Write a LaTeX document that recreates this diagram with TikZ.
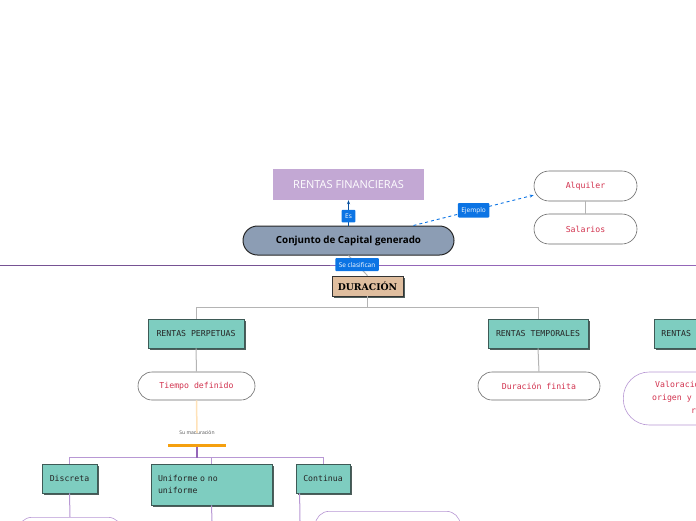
\documentclass[tikz,border=0pt]{standalone}
\usepackage{fontspec}
\setmainfont{Open Sans}
\setmonofont{DejaVu Sans Mono}
\newfontfamily\durfont{DejaVu Serif}
\usepackage{tikz}
\usetikzlibrary{positioning,shadows,arrows.meta}
\definecolor{tealbox}{HTML}{7ECDC0}
\definecolor{boxedge}{HTML}{3E5A56}
\definecolor{shadowgray}{HTML}{4F5F5C}
\definecolor{lavbox}{HTML}{C3A8D4}
\definecolor{slatebox}{HTML}{8C9DB4}
\definecolor{tanbox}{HTML}{DFBE9F}
\definecolor{labelblue}{HTML}{0C74E4}
\definecolor{crimson}{HTML}{D2334F}
\definecolor{linegray}{HTML}{B4B4B4}
\definecolor{pillgray}{HTML}{6A6A6A}
\definecolor{lilac}{HTML}{B898D4}
\definecolor{darklilac}{HTML}{9466B8}
\definecolor{peach}{HTML}{FFE2B8}
\definecolor{barorange}{HTML}{F5A00F}

\begin{document}
\begin{tikzpicture}[x=1pt,y=-1pt,
rama/.style={draw=boxedge,fill=tealbox,line width=.8pt,text=black!85,
  font=\ttfamily\fontsize{8.2}{12}\selectfont,minimum height=29pt,inner sep=0pt,
  drop shadow={shadow xshift=2pt,shadow yshift=-2pt,fill=shadowgray,opacity=1}},
idea/.style={draw=pillgray,fill=white,line width=.6pt,rounded corners=14pt,text=crimson,
  font=\ttfamily\fontsize{8.2}{13}\selectfont,minimum height=28pt,inner sep=0pt},
lbl/.style={fill=labelblue,text=white,font=\fontsize{6.5}{7}\selectfont,
  rounded corners=1pt,inner xsep=3.5pt,inner ysep=4pt},
lnk/.style={draw=linegray,line width=1pt},
plnk/.style={draw=lilac,line width=1pt}]
\useasboundingbox (0,0) rectangle (696,520);
\clip (0,0) rectangle (696,520);

% separador
\draw[darklilac!80!black,line width=.8pt] (0,265) -- (330,265);
\draw[darklilac,line width=.8pt] (330,265) -- (696,265);

% nodos de arriba
\node[fill=lavbox,text=white,font=\fontsize{11}{12}\selectfont,
  minimum width=151pt,minimum height=31pt] (fin) at (348.5,184.5) {RENTAS FINANCIERAS};
\node[draw=black!85,fill=slatebox,line width=1pt,rounded corners=14.5pt,
  font=\bfseries\fontsize{9.8}{11}\selectfont,minimum width=211pt,minimum height=29pt]
  (conj) at (348.5,240.5) {Conjunto de Capital generado};
\node[idea,minimum width=103pt,minimum height=30pt,rounded corners=15pt] (alq) at (585.5,186) {Alquiler};
\node[idea,minimum width=103pt,minimum height=30pt,rounded corners=15pt] (sal) at (585.5,229) {Salarios};
\node[draw=black!80,fill=tanbox,line width=.8pt,font=\durfont\bfseries\fontsize{9.3}{10}\selectfont,
  minimum width=71pt,minimum height=20pt,inner sep=0pt,
  drop shadow={shadow xshift=2pt,shadow yshift=-2pt,fill=shadowgray,opacity=1}]
  (dur) at (367.5,286) {DURACIÓN};

\draw[-{Stealth[length=4pt]},draw=labelblue!70!black,line width=.8pt] (conj.north) -- node[lbl,pos=.37]{Es} (fin.south);
\draw[-{Stealth[length=4pt]},labelblue,dashed,line width=.9pt] (conj.13) -- node[lbl]{Ejemplo} (alq.190);
\draw[linegray,line width=1.5pt] (alq.south) -- (sal.north);
\draw[lnk] (conj.south) -- node[lbl,pos=.45]{Se clasifican} (dur.north);

% ramas de duracion
\node[rama,minimum width=96pt] (perp) at (196,333.5) {RENTAS PERPETUAS};
\node[rama,minimum width=100pt] (temp) at (538,333.5) {RENTAS TEMPORALES};
\node[rama,minimum width=110pt,anchor=west,text width=96pt,align=left] (otra) at (654,333.5) {RENTAS};
\draw[lnk] (dur.south) -- ++(0,11) -| (perp.north);
\draw[lnk] (dur.south) -- ++(0,11) -| (temp.north);

\node[idea,minimum width=117pt] (tiem) at (196.5,386) {Tiempo definido};
\node[idea,minimum width=122pt] (fini) at (539,386) {Duración finita};
\node[idea,draw=lilac,anchor=west,minimum width=150pt,minimum height=53pt,rounded corners=26pt] (valo) at (623,398.5) {};
\node[text=crimson,font=\ttfamily\fontsize{8.2}{10}\selectfont,anchor=west,inner sep=0pt] at (655,384.5) {Valoración};
\node[text=crimson,font=\ttfamily\fontsize{8.2}{10}\selectfont,anchor=west,inner sep=0pt] at (652,398.5) {origen y};
\node[text=crimson,font=\ttfamily\fontsize{8.2}{10}\selectfont,anchor=west,inner sep=0pt] at (691,411.5) {r};
\draw[lnk] (perp.south) -- (tiem.north);
\draw[lnk] (temp.south) -- (fini.north);

% maduracion
\node[font=\fontsize{5}{6}\selectfont,text=black!70,inner sep=1pt] (mad) at (197,433) {Su maduración};
\node[fill=barorange,minimum width=58pt,minimum height=3pt,inner sep=0pt] (bar) at (197,445) {};
\draw[peach,line width=1.5pt] (tiem.south) -- ([yshift=-3pt]mad.north);

\node[rama,minimum width=55pt] (disc) at (69.5,478.5) {Discreta};
\node[rama,minimum width=121pt,minimum height=41pt,text width=107pt,align=left] (unif) at (211.5,484.5) {Uniforme o no\\uniforme};
\node[rama,minimum width=54pt] (cont) at (323,478.5) {Continua};
\draw[plnk] (bar.south) -- ++(0,11) -| (disc.north);
\draw[plnk] (bar.south) -- ++(0,11) -| (unif.north);
\draw[plnk] (bar.south) -- ++(0,11) -| (cont.north);
\draw[darklilac,line width=1.5pt] (bar.south) -- ++(0,11);

\node[idea,draw=lilac,anchor=north,minimum width=104pt,minimum height=40pt] (hoja1) at (70,517) {};
\node[idea,draw=lilac,anchor=north west,minimum width=145pt,minimum height=40pt] (hoja2) at (315,511) {};
\coordinate (u1) at (212,521);
\coordinate (c1) at (300,521);
\draw[plnk] (disc.south) -- (hoja1.north);
\draw[plnk] (unif.south) -- (u1);
\draw[plnk] ([xshift=4pt]cont.south west) -- (c1);
\end{tikzpicture}
\end{document}
